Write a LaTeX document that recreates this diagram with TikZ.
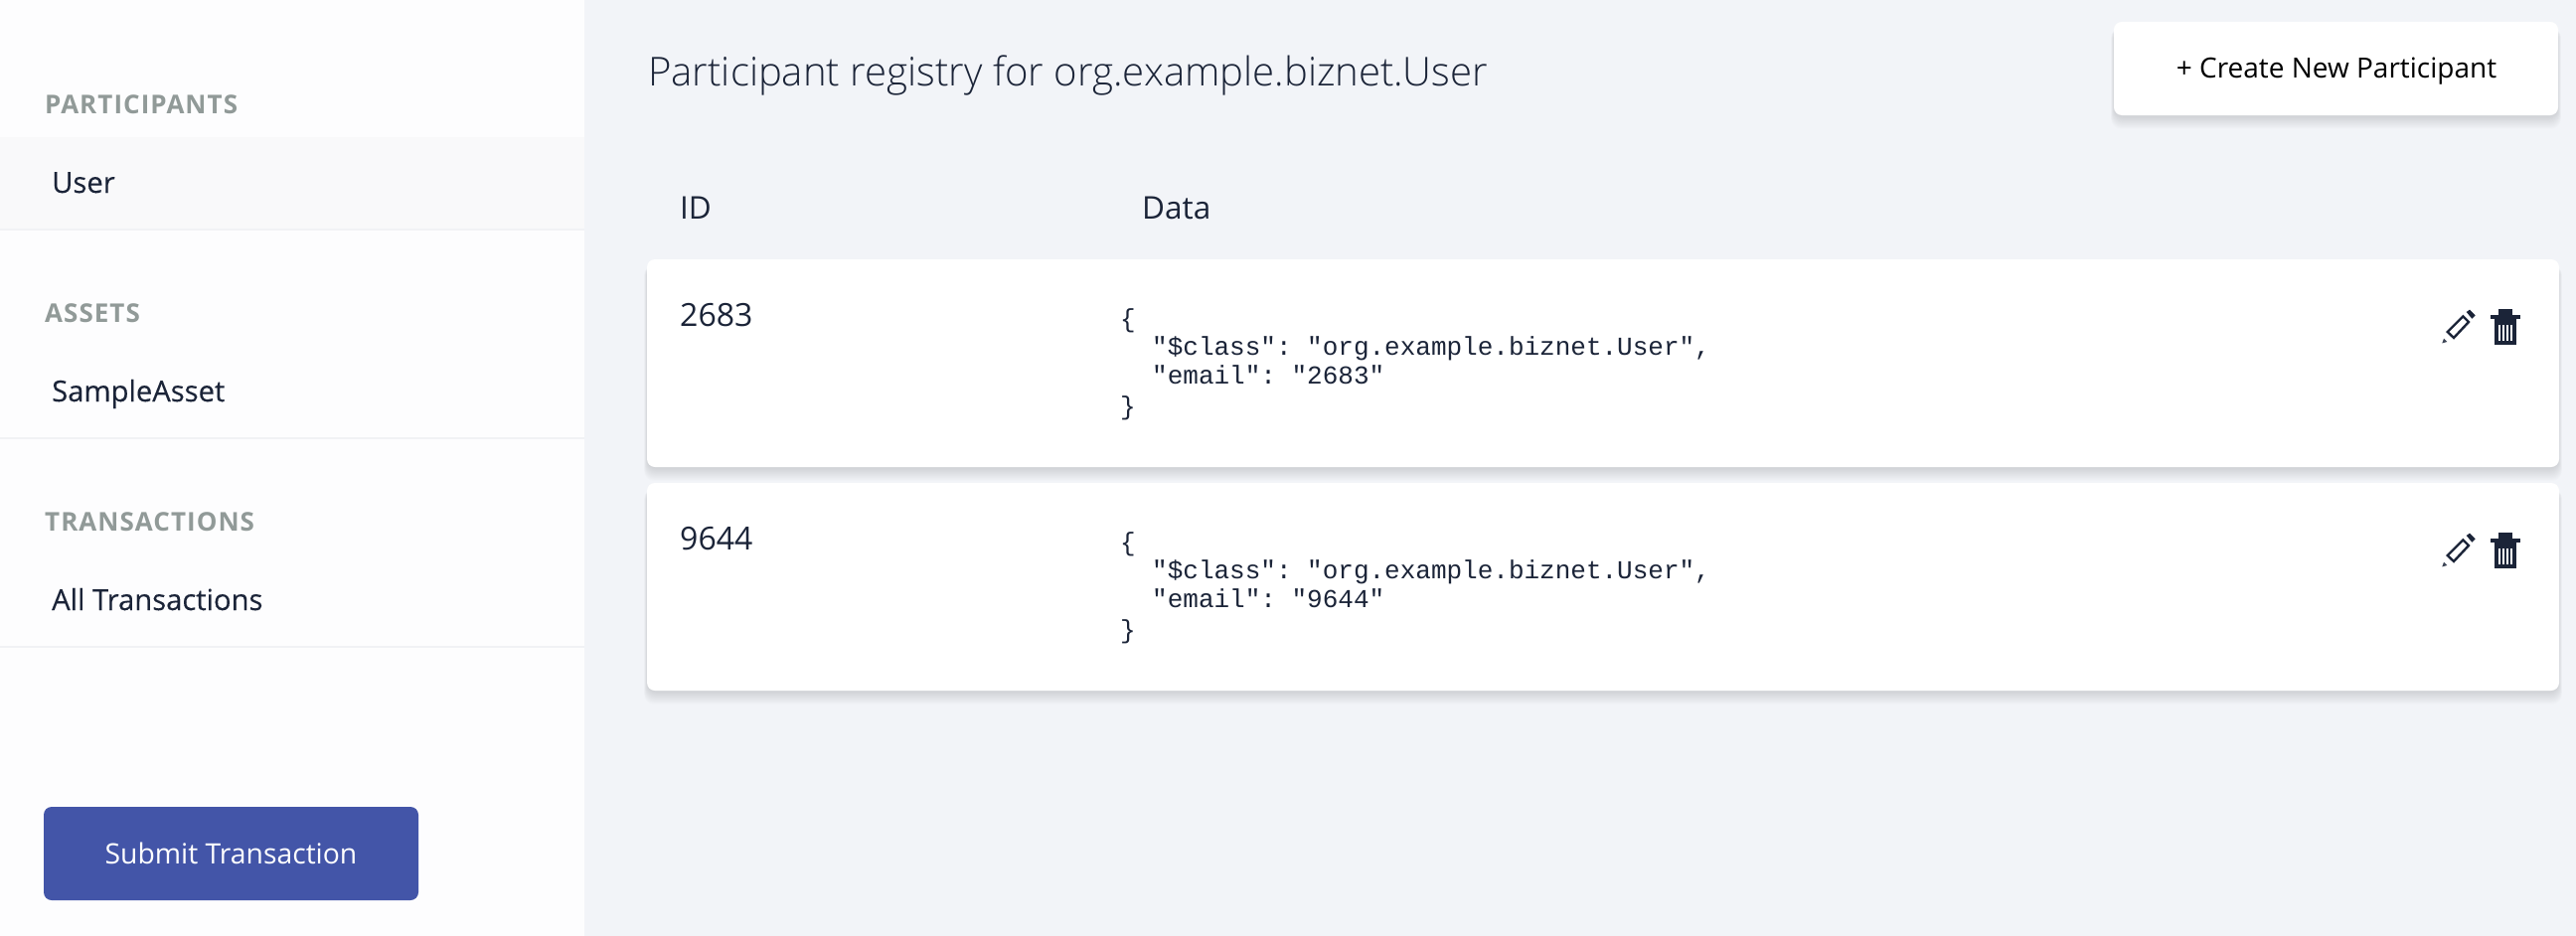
\documentclass[tikz,border=0pt]{standalone}
\usepackage{fontspec}
\setmainfont{Open Sans}
\newfontfamily\lightfont{Open Sans Light}
\newfontfamily\jsonfont{Liberation Mono}
\newfontfamily\navfont[FakeBold=0.2]{Open Sans}
\newfontfamily\headfont[LetterSpace=4]{Open Sans}
\usetikzlibrary{positioning}

\definecolor{pagebg}{HTML}{F2F4F8}
\definecolor{sidebg}{HTML}{FDFDFE}
\definecolor{rowbg}{HTML}{F9F9FA}
\definecolor{rowline}{HTML}{F1F2F5}
\definecolor{inktext}{HTML}{1B2438}
\definecolor{headgrey}{HTML}{919A98}
\definecolor{btnblue}{HTML}{4355A8}

\tikzset{
    txt/.style={inner sep=0pt, anchor=base west, text=inktext},
    sectionhead/.style={txt, text=headgrey, font=\fontsize{26}{26}\headfont\bfseries},
    navitem/.style={txt, font=\fontsize{29.2}{29.2}\navfont},
    colhead/.style={txt, font=\fontsize{31.5}{31.5}\selectfont},
    idtext/.style={txt, font=\fontsize{32}{32}\selectfont},
    jsontext/.style={txt, font=\fontsize{26}{26}\jsonfont},
    softshadow/.style={fill=black, opacity=0.009, rounded corners=10pt},
    pencilicon/.pic={
        \draw[inktext, line width=2.4pt] (0,0) -- (15.6,-15.6) -- (21.3,-10) -- (6.3,6) -- cycle;
        \fill[inktext] (19,-20) -- (22.3,-22.3) -- (28,-16.6) -- (24.6,-13.3) -- cycle;
        \fill[inktext!85] (-5.4,11.4) -- (-3.7,6.7) -- (-0.4,10) -- cycle;
    },
    trashicon/.pic={
        \fill[inktext] (8,0) rectangle (22,6);
        \fill[inktext] (0,6) rectangle (30,10);
        \fill[inktext] (4,10) rectangle (26,36);
        \foreach \s in {0,...,3} {
            \fill[white] (8.2+\s*3.9,15.5) rectangle (10+\s*3.9,32);};
    }
}

\newcommand{\softbox}[4]{
    \foreach \s in {0,...,15} {
        \fill[softshadow] (#1-\s*0.2,#2+6) rectangle (#3+\s*0.2,#4+\s*0.8+2);}
}

\begin{document}
\begin{tikzpicture}[x=1pt,y=-1pt]

    % page and sidebar
    \useasboundingbox (0,0) rectangle (2592,942);
    \fill[pagebg] (0,0) rectangle (2592,942);
    \fill[sidebg] (0,0) rectangle (588,942);
    \fill[rowbg] (0,138) rectangle (588,230);
    \foreach \y in {230,440,650} {
        \fill[rowline] (0,\y) rectangle (588,\y+2);};

    \foreach \head/\item [count=\c] in {PARTICIPANTS/User,ASSETS/SampleAsset,TRANSACTIONS/All Transactions} {
        \node[sectionhead] (head\c) at (45,114+\c*210-210) {\head};
        \node[navitem] (item\c) at (52,194+\c*210-210) {\item};};

    \fill[btnblue, rounded corners=8pt] (44,812) rectangle (421,906);
    \node[inner sep=0pt, text=white, font=\fontsize{28.3}{28.3}\selectfont] (submit) at (232.5,859) {Submit Transaction};

    % title and create button
    \node[txt, font=\fontsize{40.1}{40.1}\lightfont] (title) at (652,86) {Participant registry for org.example.biznet.User};
    \softbox{2127}{22}{2574}{116}
    \fill[white, rounded corners=8pt] (2127,22) rectangle (2574,116);
    \node[inner sep=0pt, text=black, font=\fontsize{28}{28}\selectfont] (create) at (2351,72) {+ Create New Participant};

    % table
    \node[colhead] (idhead) at (684,220) {ID};
    \node[colhead] (datahead) at (1149,220) {Data};

    \foreach \num [count=\c] in {2683,9644} {
        \begin{scope}[shift={(0,\c*225-225)}]
            \softbox{651}{261}{2575}{470}
            \fill[white, rounded corners=8pt] (651,261) rectangle (2575,470);
            \node[idtext] (id\c) at (684,328) {\num};
            \node[jsontext] (open\c) at (1127,329) {\{};
            \node[jsontext] (cls\c) at (1159,357) {"\$class":\ "org.example.biznet.User",};
            \node[jsontext] (mail\c) at (1159,386) {"email":\ "\num"};
            \node[jsontext] (close\c) at (1127,417) {\}};
            \pic at (2462.7,334) {pencilicon};
            \pic at (2506,311) {trashicon};
        \end{scope}};

\end{tikzpicture}
\end{document}
